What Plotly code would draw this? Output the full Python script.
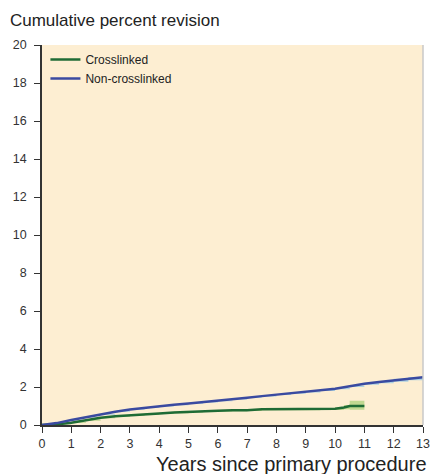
import plotly.graph_objects as go

years = [0, 0.5, 1, 1.5, 2, 2.5, 3, 3.5, 4, 4.5, 5, 5.5, 6, 6.5, 7, 7.5, 8, 8.5, 9, 9.5, 10, 10.5, 11, 11.5, 12, 12.5, 13]
noncross = [0, 0.1, 0.26, 0.42, 0.56, 0.7, 0.82, 0.91, 0.99, 1.06, 1.13, 1.2, 1.27, 1.36, 1.44, 1.52, 1.6, 1.67, 1.74, 1.82, 1.91, 2.04, 2.17, 2.26, 2.35, 2.43, 2.52]
noncross_lo = [0, 0.09, 0.24, 0.4, 0.54, 0.68, 0.8, 0.89, 0.97, 1.04, 1.11, 1.18, 1.25, 1.34, 1.42, 1.5, 1.58, 1.64, 1.71, 1.79, 1.88, 2.0, 2.12, 2.2, 2.28, 2.35, 2.42]
noncross_hi = [0, 0.11, 0.28, 0.44, 0.58, 0.72, 0.84, 0.93, 1.01, 1.08, 1.15, 1.22, 1.29, 1.38, 1.46, 1.55, 1.63, 1.7, 1.77, 1.86, 1.95, 2.08, 2.22, 2.32, 2.43, 2.52, 2.65]

cross_years = [0, 0.5, 1, 1.5, 2, 2.5, 3, 3.5, 4, 4.5, 5, 5.5, 6, 6.5, 7, 7.5, 8, 8.5, 9, 9.5, 10, 10.3, 10.5, 11]
cross = [0, 0.03, 0.12, 0.26, 0.38, 0.46, 0.52, 0.57, 0.61, 0.66, 0.7, 0.73, 0.75, 0.77, 0.78, 0.83, 0.83, 0.83, 0.83, 0.84, 0.85, 0.92, 1.0, 1.0]
cross_lo = [0, 0.02, 0.1, 0.23, 0.35, 0.43, 0.49, 0.54, 0.58, 0.62, 0.66, 0.69, 0.71, 0.73, 0.74, 0.78, 0.78, 0.78, 0.78, 0.79, 0.79, 0.83, 0.8, 0.8]
cross_hi = [0, 0.04, 0.14, 0.29, 0.41, 0.49, 0.55, 0.6, 0.64, 0.7, 0.74, 0.77, 0.79, 0.81, 0.83, 0.88, 0.88, 0.88, 0.89, 0.9, 0.92, 1.05, 1.27, 1.27]

x_ticks = list(range(0, 14))
y_ticks = list(range(0, 21, 2))

fig = go.Figure()

# confidence bands
fig.add_trace(go.Scatter(x=years, y=noncross_hi, mode="lines", line=dict(width=0, shape="hv"),
                         showlegend=False, hoverinfo="skip"))
fig.add_trace(go.Scatter(x=years, y=noncross_lo, mode="lines", line=dict(width=0, shape="hv"),
                         fill="tonexty", fillcolor="rgba(120,190,235,0.6)", showlegend=False, hoverinfo="skip"))
fig.add_trace(go.Scatter(x=cross_years, y=cross_hi, mode="lines", line=dict(width=0, shape="hv"),
                         showlegend=False, hoverinfo="skip"))
fig.add_trace(go.Scatter(x=cross_years, y=cross_lo, mode="lines", line=dict(width=0, shape="hv"),
                         fill="tonexty", fillcolor="rgba(160,205,110,0.65)", showlegend=False, hoverinfo="skip"))

fig.add_trace(go.Scatter(x=cross_years, y=cross, mode="lines", name="Crosslinked",
                         line=dict(color="#1f6b35", width=2.5)))
fig.add_trace(go.Scatter(x=years, y=noncross, mode="lines", name="Non-crosslinked",
                         line=dict(color="#3a4aa0", width=2.5)))

fig.update_layout(
    width=431, height=474,
    margin=dict(l=42, r=8, t=45, b=49, autoexpand=False),
    paper_bgcolor="white",
    plot_bgcolor="#fdeed2",
    font=dict(family="Liberation Sans, Arial, sans-serif", size=12, color="#333333"),
    showlegend=True,
    legend=dict(x=0.009, y=1.0, xanchor="left", yanchor="top", bgcolor="rgba(0,0,0,0)",
                traceorder="normal", font=dict(size=12, color="#222222"), tracegroupgap=0,
                itemwidth=30),
    title=dict(text="Cumulative percent revision", x=0.023, xanchor="left", y=0.958, yanchor="middle",
               font=dict(size=17, color="#222222")),
)
fig.update_xaxes(range=[0, 13], tickvals=x_ticks, ticks="outside", ticklen=6, tickcolor="#333333",
                 showline=True, linecolor="#333333", linewidth=1.5, showgrid=False, zeroline=False,
                 automargin=False, ticklabeloverflow="allow",
                 tickfont=dict(size=12.5, color="#333333"))
fig.update_yaxes(range=[0, 20], tickvals=y_ticks, ticks="outside", ticklen=6, tickcolor="#333333",
                 showline=True, linecolor="#333333", linewidth=1.5, showgrid=False, zeroline=False,
                 automargin=False, ticklabelstandoff=5,
                 tickfont=dict(size=12.5, color="#333333"))
fig.add_shape(type="line", xref="paper", yref="paper", x0=1, x1=1, y0=0, y1=1,
              line=dict(color="#c8c8c8", width=1.5))
fig.add_annotation(text="Years since primary procedure", xref="paper", yref="paper",
                   x=1.015, y=-0.068, xanchor="right", yanchor="top", showarrow=False,
                   font=dict(size=20, color="#222222"))

fig.write_html("out.html", config={"displayModeBar": False},
               post_script="document.body.style.margin='0';document.body.style.overflow='hidden';")
